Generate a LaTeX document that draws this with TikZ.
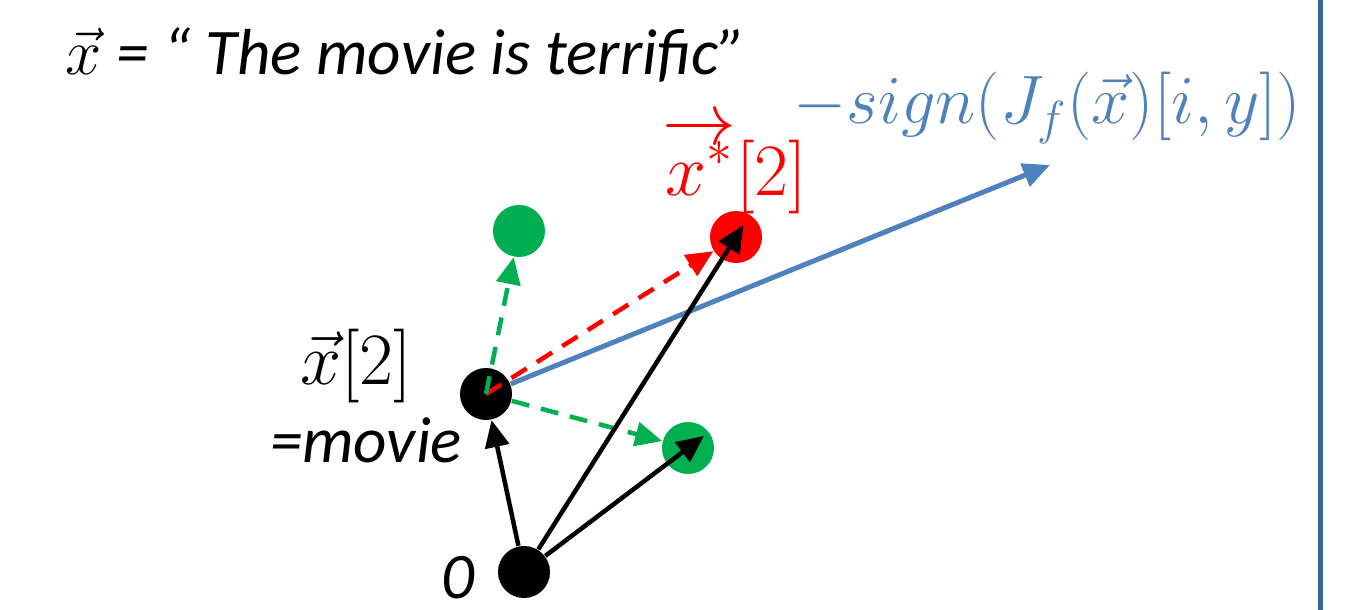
\documentclass[tikz,border=0pt]{standalone}
\usepackage{fix-cm}
\usepackage[no-math]{fontspec}
\setmainfont{Carlito}
\usetikzlibrary{arrows.meta}
\definecolor{advred}{HTML}{FF0000}
\definecolor{advgreen}{HTML}{00B050}
\definecolor{gradblue}{HTML}{4F81BD}
\definecolor{framebl}{HTML}{3A6598}
\begin{document}
\begin{tikzpicture}[
  x=0.01cm, y=-0.01cm,
  font=\fontsize{18.5}{20}\selectfont,
  mfont/.style={font=\fontsize{21}{23}\selectfont},
  dot/.style={circle, minimum size=0.52cm, inner sep=0pt},
  tip/.style={-{Triangle[length=0.27cm, width=0.24cm]}},
  arr/.style={tip, line width=0.045cm, black},
  darr/.style={tip, line width=0.045cm, dash pattern=on 0.18cm off 0.12cm},
  lbl/.style={inner sep=0pt}
]
  \useasboundingbox (0,0) rectangle (1349,610);
  % texte
  \node[lbl, anchor=west] (sent) at (65,55) {$\vec{x}$ \itshape = “ The movie is terrific”};
  \node[lbl, text=gradblue, font=\fontsize{19.5}{22}\selectfont] (grad) at (1047,108) {$-sign\bigl(J_f(\vec{x})[i,y]\bigr)$};
  \node[lbl, mfont, text=advred] (xslbl) at (735,166) {$\overrightarrow{x^{*}}[2]$};
  \node[lbl, mfont] (xwlbl) at (356,366) {$\vec{x}[2]$};
  \node[lbl] (movie) at (366,440) {\itshape =movie};
  \node[lbl] (zero) at (458,578) {\itshape 0};
  % points
  \node[dot, fill=black] (o) at (524,572) {};
  \node[dot, fill=black] (xw) at (486,394) {};
  \node[dot, fill=advgreen] (gt) at (519,231) {};
  \node[dot, fill=advgreen] (gb) at (688,448) {};
  \node[dot, fill=advred] (xs) at (736,237) {};
  \coordinate (gd) at (1050,165);
  % fleches
  \draw[tip, line width=0.05cm, gradblue] (xw) -- (gd);
  \draw[darr, advred] (xw.center) -- (xs);
  \draw[darr, advgreen] (xw.center) -- (gt);
  \draw[darr, advgreen] (xw) -- (gb);
  \draw[arr] (o) -- (xw);
  \draw[arr, shorten >=-0.14cm] (o) -- (xs.center);
  \draw[arr, shorten >=-0.2cm] (o) -- (gb.center);
  % cadre
  \draw[framebl, line width=0.05cm] (1320,0) -- (1320,610);
\end{tikzpicture}
\end{document}
